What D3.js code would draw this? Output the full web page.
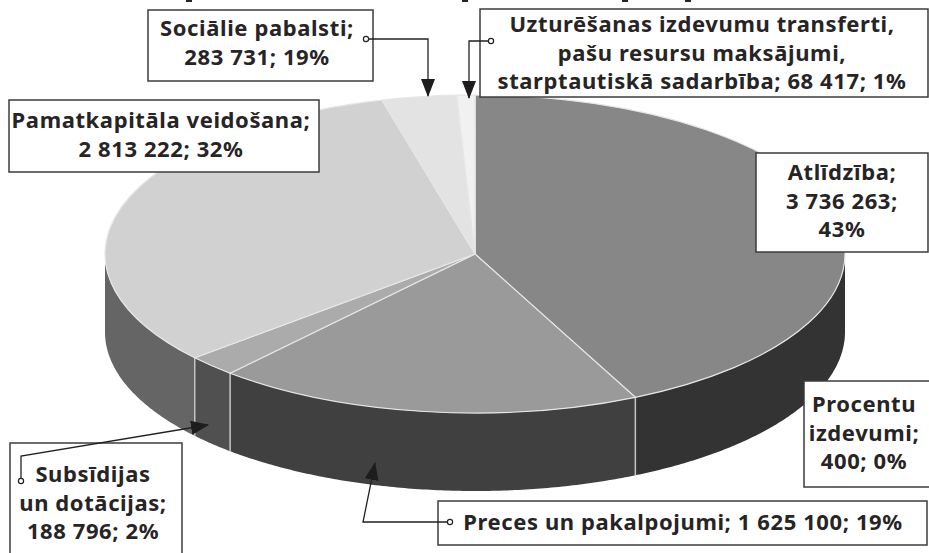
<!DOCTYPE html>
<html>
<head>
<meta charset="utf-8">
<script src="https://cdn.jsdelivr.net/npm/d3@7"></script>
<style>
  html, body { margin: 0; padding: 0; background: #fff; overflow: hidden; }
  text { font-family: "Noto Sans", sans-serif; font-weight: 700; fill: #272425; letter-spacing: 0.6px; }
</style>
</head>
<body>
<div id="chart"></div>
<script>
const categories = [
    "Atlīdzība",
    "Preces un pakalpojumi",
    "Subsīdijas un dotācijas",
    "Pamatkapitāla veidošana",
    "Sociālie pabalsti",
    "Uzturēšanas izdevumu transferti, pašu resursu maksājumi, starptautiskā sadarbība",
    "Procentu izdevumi"
];
const values = [3736263, 1625100, 188796, 2813222, 283731, 68417, 400];
const topColors = ["#878787", "#9a9a9a", "#ababab", "#d1d1d1", "#e3e3e3", "#f1f1f1", "#f1f1f1"];
const sideColors = ["#333333", "#404040", "#505050", "#656565", "#777777", "#888888", "#888888"];
const labelLines = [
    ["Atlīdzība;", "3 736 263;", "43%"],
    ["Preces un pakalpojumi; 1 625 100; 19%"],
    ["Subsīdijas", "un dotācijas;", "188 796; 2%"],
    ["Pamatkapitāla veidošana;", "2 813 222; 32%"],
    ["Sociālie pabalsti;", "283 731; 19%"],
    ["Uzturēšanas izdevumu transferti,", "pašu resursu maksājumi,", "starptautiskā sadarbība; 68 417; 1%"],
    ["Procentu", "izdevumi;", "400; 0%"]
];

// callout boxes, [x0, y0, x1, y1], same order as categories
const boxes = [
    [756, 153, 928, 252],
    [438, 501, 927, 545],
    [10, 443, 182, 560],
    [9, 100, 319, 172],
    [148, 10, 373, 81],
    [480, 9, 928, 97],
    [804, 381, 935, 487]
];
const firstBaseline = [180, 530, 482, 128, 36, 32, 412];
const textCenter = [842, 683, 93, 161, 257, 702, 864];

// leader lines, first point carries the small circle
const leaders = [
    [[366, 39], [428, 39], [428, 96]],
    [[491, 41], [469, 41], [469, 98]],
    [[21, 481], [21, 456], [208, 425]],
    [[450, 522], [363, 522], [375, 463]]
];

// the title is cut off by the picture edge, only these descender stubs show
const titleStubs = [189, 465, 625, 688];

const width = 929, height = 553;
const cx = 475, cy = 254, rx = 370, ry = 159, depth = 78;

const svg = d3.select("#chart")
    .append("svg")
    .attr("width", width)
    .attr("height", height)
    .style("display", "block");

const defs = svg.append("defs");
defs.append("marker")
    .attr("id", "arrow")
    .attr("viewBox", "0 0 18 14")
    .attr("refX", 17)
    .attr("refY", 7)
    .attr("markerUnits", "userSpaceOnUse")
    .attr("markerWidth", 18)
    .attr("markerHeight", 14)
    .attr("orient", "auto")
    .append("path")
    .attr("d", "M0,0L18,7L0,14Z")
    .attr("fill", "#1e1c1d");

svg.append("g").selectAll("rect")
    .data(titleStubs)
    .enter()
    .append("rect")
    .attr("x", d => d - 3)
    .attr("y", 0)
    .attr("width", 6)
    .attr("height", 2)
    .attr("fill", "#272425");

const pie = d3.pie().sort(null).value(d => d.value);
const slices = pie(values.map((value, i) => ({value, i})));

// side wall, only the front half of the ellipse is visible
const wall = d3.area()
    .x(a => cx + rx * Math.sin(a))
    .y0(a => cy - ry * Math.cos(a))
    .y1(a => cy - ry * Math.cos(a) + depth);

svg.append("g").selectAll("path")
    .data(slices)
    .enter()
    .append("path")
    .attr("d", s => {
        const a0 = Math.max(s.startAngle, Math.PI / 2);
        const a1 = Math.min(s.endAngle, Math.PI * 1.5);
        if (a1 <= a0) return null;
        return wall(d3.range(a0, a1, 0.01).concat(a1));
    })
    .attr("fill", s => sideColors[s.data.i]);

// light seams on the wall
svg.append("g").selectAll("line")
    .data(slices.filter(s => s.endAngle > Math.PI / 2 && s.endAngle < Math.PI * 1.5))
    .enter()
    .append("line")
    .attr("x1", s => cx + rx * Math.sin(s.endAngle))
    .attr("x2", s => cx + rx * Math.sin(s.endAngle))
    .attr("y1", s => cy - ry * Math.cos(s.endAngle))
    .attr("y2", s => cy - ry * Math.cos(s.endAngle) + depth)
    .attr("stroke", "#c4c4c4")
    .attr("stroke-width", 1.5);

const arc = d3.arc().innerRadius(0).outerRadius(rx);

svg.append("g")
    .attr("transform", `translate(${cx},${cy}) scale(1,${ry / rx})`)
    .selectAll("path")
    .data(slices)
    .enter()
    .append("path")
    .attr("d", arc)
    .attr("fill", s => topColors[s.data.i])
    .attr("stroke", "#e6e6e6")
    .attr("stroke-width", 1.2)
    .attr("vector-effect", "non-scaling-stroke");

// label boxes
const labels = svg.append("g").selectAll("g")
    .data(categories)
    .enter()
    .append("g")
    .attr("class", "label");

labels.append("rect")
    .attr("x", (d, i) => boxes[i][0])
    .attr("y", (d, i) => boxes[i][1])
    .attr("width", (d, i) => boxes[i][2] - boxes[i][0])
    .attr("height", (d, i) => boxes[i][3] - boxes[i][1])
    .attr("fill", "#fff")
    .attr("stroke", "#3c3c3c")
    .attr("stroke-width", 1.5);

labels.each(function(d, i) {
    d3.select(this).selectAll("text")
        .data(labelLines[i])
        .enter()
        .append("text")
        .attr("x", textCenter[i])
        .attr("y", (line, j) => firstBaseline[i] + j * 28.5)
        .attr("text-anchor", "middle")
        .style("font-size", "22px")
        .text(line => line);
});

// leader lines
const leaderLine = d3.line();
const leaderGroup = svg.append("g");

leaders.forEach(points => {
    leaderGroup.append("path")
        .attr("d", leaderLine(points))
        .attr("fill", "none")
        .attr("stroke", "#222")
        .attr("stroke-width", 1.3)
        .attr("marker-end", "url(#arrow)");
});

leaderGroup.selectAll("circle")
    .data(leaders.map(points => points[0]))
    .enter()
    .append("circle")
    .attr("cx", d => d[0])
    .attr("cy", d => d[1])
    .attr("r", 2.6)
    .attr("fill", "#fff")
    .attr("stroke", "#222")
    .attr("stroke-width", 1.2);
</script>
</body>
</html>
